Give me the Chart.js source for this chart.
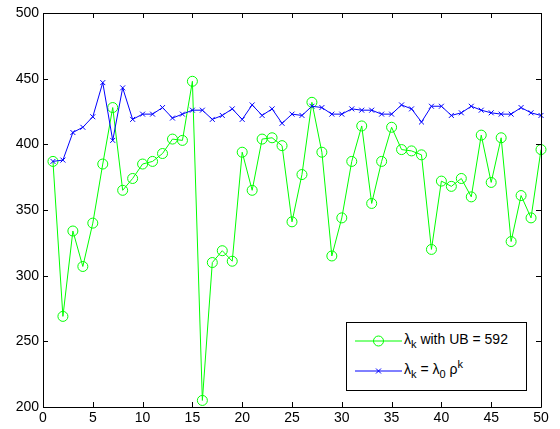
<!DOCTYPE html>
<html>
<head>
<meta charset="utf-8">
<script src="https://cdn.jsdelivr.net/npm/chart.js@4"></script>
<style>
    html, body { margin: 0; padding: 0; background: #fff; }
    #wrap { position: relative; width: 560px; height: 429px; }
    #legend {
        position: absolute; left: 346px; top: 322px; width: 179px; height: 67px;
        border: 1px solid #000; background: #fff;
        font-family: "Liberation Sans", Arial, sans-serif; font-size: 14px; color: #000;
    }
    #legend .row { position: absolute; left: 0; width: 179px; height: 30px; }
    #legend svg { position: absolute; left: 8px; top: 0; }
    #legend .txt { position: absolute; left: 57px; top: 6px; white-space: nowrap; line-height: 14px; }
    #legend sub, #legend sup { font-size: 11px; line-height: 0; }
</style>
</head>
<body>
<div id="wrap">
    <canvas id="chart" width="560" height="429"></canvas>
    <div id="legend">
        <div class="row" style="top: 3px;">
            <svg width="48" height="30"><line x1="0" y1="15" x2="47" y2="15" stroke="#00ff00" stroke-width="1"/><circle cx="23.5" cy="15" r="5" fill="none" stroke="#00ff00" stroke-width="1"/></svg>
            <span class="txt">λ<sub>k</sub> with UB = 592</span>
        </div>
        <div class="row" style="top: 33px;">
            <svg width="48" height="30"><line x1="0" y1="15" x2="47" y2="15" stroke="#0000ff" stroke-width="1"/><path d="M21 12.5 L26 17.5 M26 12.5 L21 17.5" stroke="#0000ff" stroke-width="1"/></svg>
            <span class="txt">λ<sub>k</sub> = λ<sub>0</sub> ρ<sup>k</sup></span>
        </div>
    </div>
</div>
<script>
// iteration index k
const iterations = [];
for (let k = 1; k <= 50; k++) iterations.push(k);

// lambda_k with UB = 592
const lambdaUB = [
    387, 269, 334, 307, 340, 385, 428, 365, 374, 385,
    387, 393, 404, 403, 448, 205, 310, 319, 311, 394,
    365, 404, 405, 399, 341, 377, 432, 394, 315, 344,
    387, 414, 355, 387, 413, 396, 395, 392, 320, 372,
    368, 374, 360, 407, 371, 405, 326, 361, 344, 396
];

// lambda_k = lambda_0 rho^k
const lambdaRho = [
    387, 388, 409, 413, 421, 447, 403, 443, 419, 423,
    423, 428, 420, 423, 426, 426, 419, 422, 427, 419,
    430, 422, 427, 416, 423, 422, 429, 428, 423, 423,
    427, 426, 426, 423, 423, 430, 427, 417, 429, 429,
    422, 424, 429, 426, 424, 423, 423, 428, 424, 422
];

const xTicks = [0, 5, 10, 15, 20, 25, 30, 35, 40, 45, 50];
const yTicks = [200, 250, 300, 350, 400, 450, 500];

function toPoints(ys) {
    return ys.map((y, i) => ({ x: iterations[i], y: y }));
}

// matlab style box with inward ticks on all four sides
const boxTicks = {
    id: 'boxTicks',
    afterDraw(chart) {
        const ctx = chart.ctx;
        const a = chart.chartArea;
        const sx = chart.scales.x, sy = chart.scales.y;
        const len = 5;
        ctx.save();
        ctx.strokeStyle = '#000';
        ctx.lineWidth = 1;
        ctx.beginPath();
        ctx.rect(Math.round(a.left) + 0.5, Math.round(a.top) + 0.5,
            Math.round(a.right - a.left), Math.round(a.bottom - a.top));
        xTicks.forEach(v => {
            const px = Math.round(sx.getPixelForValue(v)) + 0.5;
            ctx.moveTo(px, a.bottom); ctx.lineTo(px, a.bottom - len);
            ctx.moveTo(px, a.top); ctx.lineTo(px, a.top + len);
        });
        yTicks.forEach(v => {
            const py = Math.round(sy.getPixelForValue(v)) + 0.5;
            ctx.moveTo(a.left, py); ctx.lineTo(a.left + len, py);
            ctx.moveTo(a.right, py); ctx.lineTo(a.right - len, py);
        });
        ctx.stroke();
        ctx.restore();
    }
};

const tickFont = { family: '"Liberation Sans", Arial, sans-serif', size: 14 };

new Chart(document.getElementById('chart').getContext('2d'), {
    type: 'line',
    data: {
        datasets: [{
            label: 'lambda_k with UB = 592',
            data: toPoints(lambdaUB),
            borderColor: '#00ff00',
            borderWidth: 1,
            pointStyle: 'circle',
            pointRadius: 5,
            pointBorderColor: '#00ff00',
            pointBackgroundColor: 'rgba(0,0,0,0)',
            pointBorderWidth: 1,
            tension: 0,
            clip: false,
            order: 2
        }, {
            label: 'lambda_k = lambda_0 rho^k',
            data: toPoints(lambdaRho),
            borderColor: '#0000ff',
            borderWidth: 1,
            pointStyle: 'crossRot',
            pointRadius: 3.5,
            pointBorderColor: '#0000ff',
            pointBorderWidth: 1,
            tension: 0,
            clip: false,
            order: 1
        }]
    },
    options: {
        responsive: false,
        animation: false,
        devicePixelRatio: 1,
        layout: { padding: { top: 13, right: 19, left: 0, bottom: 0 } },
        plugins: { legend: { display: false }, tooltip: { enabled: false } },
        scales: {
            x: {
                type: 'linear', min: 0, max: 50,
                afterBuildTicks: s => { s.ticks = xTicks.map(v => ({ value: v })); },
                afterFit: s => { s.height = 22; },
                grid: { display: false, drawTicks: false },
                border: { display: false },
                ticks: { color: '#000', font: tickFont, padding: 3, maxRotation: 0 }
            },
            y: {
                type: 'linear', min: 200, max: 500,
                afterBuildTicks: s => { s.ticks = yTicks.map(v => ({ value: v })); },
                afterFit: s => { s.width = 43; },
                grid: { display: false, drawTicks: false },
                border: { display: false },
                ticks: { color: '#000', font: tickFont, padding: 4 }
            }
        }
    },
    plugins: [boxTicks]
});
</script>
</body>
</html>
